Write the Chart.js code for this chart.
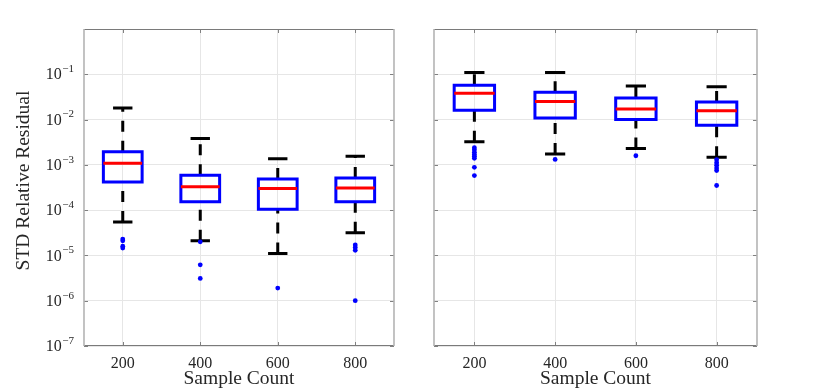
<!DOCTYPE html>
<html>
<head>
<meta charset="utf-8">
<script src="https://cdn.jsdelivr.net/npm/chart.js@4.4.1/dist/chart.umd.min.js"></script>
<style>
  body { margin: 0; background: #fff; }
  #wrap { position: relative; width: 830px; height: 390px; }
  #wrap canvas { position: absolute; top: 0; }
</style>
</head>
<body>
<div id="wrap">
  <canvas id="leftChart" width="400" height="390" style="left:0"></canvas>
  <canvas id="rightChart" width="430" height="390" style="left:400px"></canvas>
</div>
<script>
// categories and tick labels
const sampleCounts = [200, 400, 600, 800];
const xTicks = [200, 400, 600, 800];
const yTicks = [1e-7, 1e-6, 1e-5, 1e-4, 1e-3, 1e-2, 1e-1, 1e0];

// left panel: whisker ends, quartiles, median, outliers
const leftUpper = [1.8e-2, 3.8e-3, 1.36e-3, 1.54e-3];
const leftQ3 = [1.95e-3, 5.9e-4, 4.9e-4, 5.1e-4];
const leftMedian = [1.08e-3, 3.3e-4, 3.0e-4, 3.1e-4];
const leftQ1 = [4.2e-4, 1.53e-4, 1.04e-4, 1.53e-4];
const leftLower = [5.5e-5, 2.1e-5, 1.11e-5, 3.17e-5];
const leftOutliers = [
    [2.3e-5, 2.1e-5, 1.6e-5, 1.45e-5],
    [2.0e-5, 6.2e-6, 3.1e-6],
    [1.9e-6],
    [1.7e-5, 1.5e-5, 1.3e-5, 1.0e-6]
];

// right panel
const rightUpper = [0.11, 0.11, 0.055, 0.053];
const rightQ3 = [0.057, 0.040, 0.030, 0.0243];
const rightMedian = [0.038, 0.0252, 0.0171, 0.0156];
const rightQ1 = [0.016, 0.0108, 0.0100, 0.0075];
const rightLower = [3.24e-3, 1.73e-3, 2.31e-3, 1.47e-3];
const rightOutliers = [
    [2.4e-3, 2.15e-3, 1.9e-3, 1.7e-3, 1.55e-3, 1.4e-3, 8.8e-4, 5.8e-4],
    [1.32e-3],
    [1.59e-3],
    [1.3e-3, 1.12e-3, 9.8e-4, 8.5e-4, 7.5e-4, 3.5e-4]
];

const BOX_HALF = 50;   // half box width in x units
const CAP_HALF = 25;   // half whisker cap width
const FONT = "'Liberation Serif', 'DejaVu Serif', serif";
const TEXT = '#262626';
const GRID = '#e6e6e6';

function lineSet(data, color, width, extra) {
    return Object.assign({
        type: 'line',
        data: data,
        borderColor: color,
        borderWidth: width,
        pointRadius: 0,
        fill: false,
        spanGaps: false,
        tension: 0,
        borderCapStyle: 'butt',
        borderJoinStyle: 'miter'
    }, extra || {});
}

function boxDatasets(upper, q3, median, q1, lower, outliers) {
    var whiskers = [], caps = [], boxes = [], medians = [], dots = [];
    sampleCounts.forEach(function (x, i) {
        // whiskers run upward, like the original plot's dash phase
        whiskers.push({x: x, y: q3[i]}, {x: x, y: upper[i]}, {x: x, y: null});
        whiskers.push({x: x, y: lower[i]}, {x: x, y: q1[i]}, {x: x, y: null});
        caps.push({x: x - CAP_HALF, y: upper[i]}, {x: x + CAP_HALF, y: upper[i]}, {x: x, y: null});
        caps.push({x: x - CAP_HALF, y: lower[i]}, {x: x + CAP_HALF, y: lower[i]}, {x: x, y: null});
        boxes.push(
            {x: x - BOX_HALF, y: q1[i]}, {x: x + BOX_HALF, y: q1[i]},
            {x: x + BOX_HALF, y: q3[i]}, {x: x - BOX_HALF, y: q3[i]},
            {x: x - BOX_HALF, y: q1[i]}, {x: x, y: null});
        medians.push({x: x - BOX_HALF, y: median[i]}, {x: x + BOX_HALF, y: median[i]}, {x: x, y: null});
        outliers[i].forEach(function (v) { dots.push({x: x, y: v}); });
    });
    // first dataset is drawn on top
    return [
        lineSet(medians, '#ff0000', 3),
        lineSet(boxes, '#0000ff', 3, {borderCapStyle: 'square'}),
        lineSet(dots, '#0000ff', 0, {showLine: false, pointRadius: 2.4, pointBackgroundColor: '#0000ff', pointBorderWidth: 0}),
        lineSet(caps, '#000000', 3),
        lineSet(whiskers, '#000000', 3, {borderDash: [11, 9]})
    ];
}

function framePlugin(withLabels) {
    return {
        id: 'frame',
        afterDraw: function (chart) {
            var a = chart.chartArea, ctx = chart.ctx;
            var xs = chart.scales.x, ys = chart.scales.y;
            ctx.save();
            ctx.lineWidth = 1;
            // inward ticks
            ctx.strokeStyle = '#808080';
            ctx.beginPath();
            xTicks.forEach(function (v) {
                var px = Math.round(xs.getPixelForValue(v)) + 0.5;
                ctx.moveTo(px, a.bottom); ctx.lineTo(px, a.bottom - 4);
                ctx.moveTo(px, a.top); ctx.lineTo(px, a.top + 4);
            });
            yTicks.forEach(function (v) {
                var py = Math.round(ys.getPixelForValue(v)) + 0.5;
                ctx.moveTo(a.left, py); ctx.lineTo(a.left + 4, py);
                ctx.moveTo(a.right, py); ctx.lineTo(a.right - 4, py);
            });
            ctx.stroke();
            // box edges
            ctx.strokeStyle = '#7a7a7a';
            ctx.beginPath();
            ctx.moveTo(a.left, a.top + 0.5); ctx.lineTo(a.right, a.top + 0.5);
            ctx.moveTo(a.left, a.bottom - 0.5); ctx.lineTo(a.right, a.bottom - 0.5);
            ctx.stroke();
            ctx.strokeStyle = '#b4b4b4';
            ctx.lineWidth = 1.6;
            ctx.beginPath();
            ctx.moveTo(a.left, a.top); ctx.lineTo(a.left, a.bottom);
            ctx.moveTo(a.right, a.top); ctx.lineTo(a.right, a.bottom);
            ctx.stroke();

            if (withLabels) {
                ctx.fillStyle = TEXT;
                ctx.textBaseline = 'middle';
                yTicks.forEach(function (v) {
                    if (v >= 1) return;
                    var py = ys.getPixelForValue(v);
                    var exp = '\u2212' + String(-Math.round(Math.log10(v)));
                    ctx.font = '11px ' + FONT;
                    var ew = ctx.measureText(exp).width;
                    ctx.textAlign = 'right';
                    var right = a.left - 10;
                    ctx.fillText(exp, right, py - 5);
                    ctx.font = '16px ' + FONT;
                    ctx.fillText('10', right - ew - 0.5, py + 1);
                });
                ctx.save();
                ctx.translate(24, (a.top + a.bottom) / 2 - 7);
                ctx.rotate(-Math.PI / 2);
                ctx.textAlign = 'center';
                ctx.font = '19.5px ' + FONT;
                ctx.fillText('STD Relative Residual', 0, 0);
                ctx.restore();
            }
            ctx.restore();
        }
    };
}

function makeChart(id, datasets, yWidth, rightPad, withLabels) {
    return new Chart(document.getElementById(id), {
        type: 'line',
        data: { datasets: datasets },
        plugins: [framePlugin(withLabels)],
        options: {
            responsive: false,
            animation: false,
            events: [],
            layout: { padding: { top: 29, right: rightPad, left: 0, bottom: 0 } },
            plugins: { legend: { display: false }, tooltip: { enabled: false } },
            scales: {
                x: {
                    type: 'linear',
                    min: 100,
                    max: 900,
                    afterBuildTicks: function (s) { s.ticks = xTicks.map(function (v) { return {value: v}; }); },
                    afterFit: function (s) { s.height = 44; },
                    grid: { color: GRID, drawTicks: false },
                    border: { display: false },
                    ticks: { padding: 8, color: TEXT, maxRotation: 0, autoSkip: false, font: { family: FONT, size: 16 } },
                    title: { display: true, text: 'Sample Count', color: TEXT, font: { family: FONT, size: 19.5 }, padding: { top: 0, bottom: -1 } }
                },
                y: {
                    type: 'logarithmic',
                    min: 1e-7,
                    max: 1,
                    afterBuildTicks: function (s) { s.ticks = yTicks.map(function (v) { return {value: v}; }); },
                    afterFit: function (s) { s.width = yWidth; },
                    grid: { color: GRID, drawTicks: false },
                    border: { display: false },
                    ticks: { display: false }
                }
            }
        }
    });
}

makeChart('leftChart', boxDatasets(leftUpper, leftQ3, leftMedian, leftQ1, leftLower, leftOutliers), 84, 6, true);
makeChart('rightChart', boxDatasets(rightUpper, rightQ3, rightMedian, rightQ1, rightLower, rightOutliers), 34, 73, false);
</script>
</body>
</html>
